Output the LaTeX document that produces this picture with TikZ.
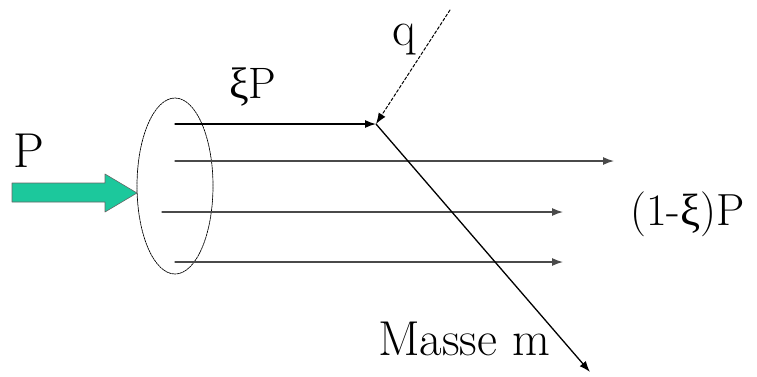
\documentclass[tikz,border=0pt]{standalone}
\usepackage{fontspec}
\newfontfamily\labelfont{Latin Modern Roman}
\newfontfamily\greekfont{Liberation Serif}
\newcommand{\xig}{{\greekfont ξ}}
\usetikzlibrary{arrows.meta,shapes.geometric}
\definecolor{beam}{HTML}{1CC89C}
\definecolor{ray}{HTML}{4A4A4A}

\begin{document}
\begin{tikzpicture}[
  x=1pt,y=-1pt,
  line cap=round,line join=round,
  >={Latex[length=11pt,width=8pt]},
  label/.style={font=\labelfont\fontsize{49}{54}\selectfont, inner sep=0pt, anchor=base west},
  ray/.style={draw=ray, line width=1.3pt, ->},
  pulse/.style={draw=black!60, line width=.6pt, fill=beam}
]
\useasboundingbox (0,0) rectangle (757,376);

% incoming power
\node[label] (p) at (13,167) {P};
\draw[pulse] (12,183) -- (105,183) -- (105,174) -- (137,193) -- (105,212)
  -- (105,202) -- (12,202) -- cycle;
\coordinate (tip) at (137,193);

% cross section
\node[draw, ellipse, minimum width=76pt, minimum height=176pt, inner sep=0pt,
  line width=.7pt, dash pattern=on 2pt off .8pt] (cs) at (175,186) {};

% rays through the cross section
\coordinate (a1) at (175,124);
\coordinate (a2) at (175,161);
\coordinate (a3) at (162,212);
\coordinate (a4) at (175,262);
\coordinate (hit) at (376,124);
\coordinate (b2) at (614,161);
\coordinate (b3) at (563,212);
\coordinate (b4) at (563,262);
\draw[ray, draw=black] (a1) -- (hit);
\draw[ray] (a2) -- (b2);
\draw[ray] (a3) -- (b3);
\draw[ray] (a4) -- (b4);
\node[label, font=\labelfont\fontsize{44}{50}\selectfont] (xip) at (229,98) {\xig P};
\node[label, font=\labelfont\fontsize{45}{50}\selectfont] (rest) at (630,225) {(1-\xig)P};

% scattered quantum and outgoing mass
\coordinate (qsrc) at (450,10);
\coordinate (out) at (590,372);
\draw[ray, draw=black, line width=1pt, dash pattern=on 3pt off 2pt] (qsrc) -- (hit);
\draw[ray, draw=black] (hit) -- (out);
\node[label] (q) at (392,45) {q};
\node[label] (m) at (378,355) {Masse m};

\end{tikzpicture}
\end{document}
